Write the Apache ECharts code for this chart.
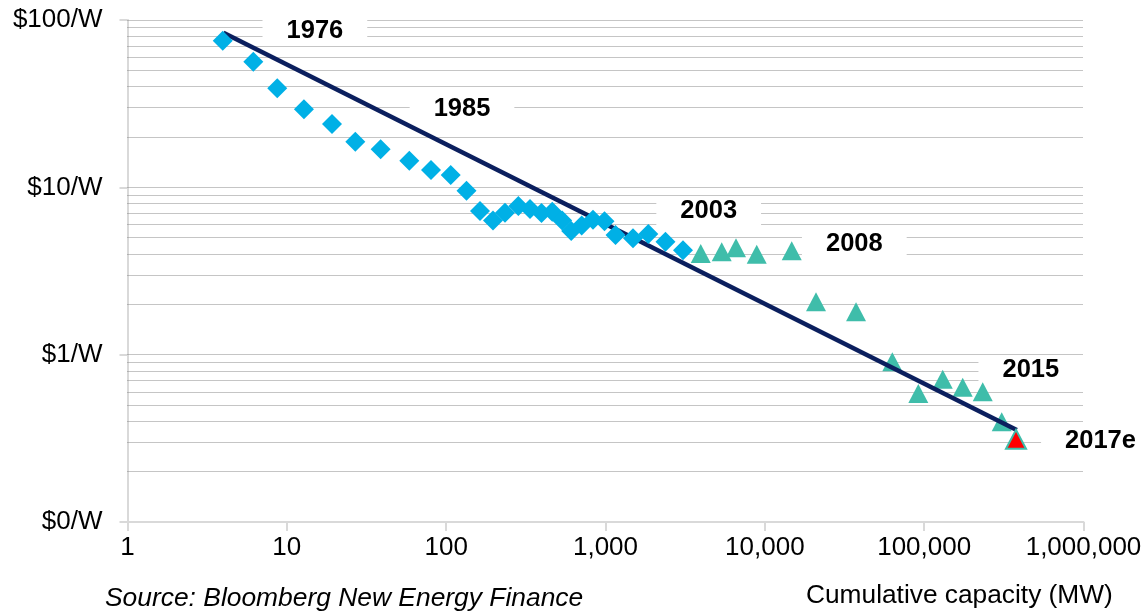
<!DOCTYPE html>
<html><head><meta charset="utf-8">
<script src="https://cdn.jsdelivr.net/npm/echarts@6/dist/echarts.min.js"></script>
<style>html,body{margin:0;padding:0;background:#fff}#chart{width:1145px;height:612px}</style>
</head><body><div id="chart"></div>
<script>
const diamondCapacity = [3.96,6.16,8.71,12.8,19.2,26.9,38.8,58.7,80.3,106.8,134.2,163.1,196.8,234,283.8,335.9,396.7,463.1,535,609,709,835,985.8,1156,1488,1856,2379,3065];
const diamondPrice = [75.2,56.3,39.1,29.3,23.9,18.7,16.9,14.4,12.7,11.85,9.55,7.22,6.34,7.05,7.73,7.42,7.02,7.15,6.34,5.48,5.91,6.41,6.27,5.19,4.96,5.26,4.73,4.21];
const triangleCapacity = [3960,5363,6593,8895,14750,20950,37360,63100,91900,130800,174500,233100,306700];
const trianglePrice = [4.03,4.12,4.36,3.98,4.18,2.07,1.806,0.908,0.587,0.712,0.638,0.601,0.397];
const estimateCapacity = [377100];
const estimatePrice = [0.312];
const trendCapacity = [4.0, 381000];
const trendPrice = [84.0, 0.355];
const annotationYears = ['1976','1985','2003','2008','2015','2017e'];
const annotationCapacity = [15.0,125.7,4443,36440,467000,1279000];
const annotationPrice = [86,29.4,7.22,4.58,0.81,0.305];
const xTickLabels = ['1','10','100','1,000','10,000','100,000','1,000,000'];
const yTickLabels = ['$0/W','$1/W','$10/W','$100/W'];
const gridPrices = [0.2,0.3,0.4,0.5,0.6,0.7,0.8,0.9,1,2,3,4,5,6,7,8,9,10,20,30,40,50,60,70,80,90,100];

const FONT = 'Liberation Sans';
const zip = (a, b) => a.map((v, i) => [v, b[i]]);
const chart = echarts.init(document.getElementById('chart'), null, {renderer: 'canvas'});
const axisGray = '#d9d9d9';
chart.setOption({
  animation: false,
  backgroundColor: '#fff',
  grid: {left: 127.5, right: 61.5, top: 20, bottom: 90},
  xAxis: {
    type: 'log', logBase: 10, min: 1, max: 1000000,
    axisLine: {show: true, lineStyle: {color: axisGray, width: 2}},
    axisTick: {show: true, length: 9, lineStyle: {color: axisGray, width: 2}},
    axisLabel: {fontSize: 26, color: '#000', fontFamily: FONT, margin: 13,
      formatter: v => xTickLabels[Math.round(Math.log10(v))]},
    splitLine: {show: false}
  },
  yAxis: {
    type: 'log', logBase: 10, min: 0.1, max: 100,
    axisLine: {show: true, lineStyle: {color: axisGray, width: 2}},
    axisTick: {show: true, length: 8, lineStyle: {color: axisGray, width: 2}},
    axisLabel: {fontSize: 26, color: '#000', fontFamily: FONT, margin: 25,
      formatter: v => yTickLabels[Math.round(Math.log10(v)) + 1]},
    splitLine: {show: false}
  },
  graphic: [
    {type: 'text', left: 105, top: 586, style: {text: 'Source: Bloomberg New Energy Finance', font: 'italic 26.4px "Liberation Sans"', fill: '#000'}},
    {type: 'text', left: 806, top: 583, style: {text: 'Cumulative capacity (MW)', font: '26.3px "Liberation Sans"', fill: '#000'}}
  ],
  series: [
    {type: 'scatter', data: [], z: 1,
      markLine: {silent: true, symbol: 'none', z: 1, animation: false, label: {show: false},
        lineStyle: {color: '#8a8a8a', type: [1, 1], width: 1},
        emphasis: {disabled: true},
        data: gridPrices.map(p => ({yAxis: p}))}},
    {type: 'scatter', z: 10, clip: false, silent: true,
      data: zip(annotationCapacity, annotationPrice),
      symbolSize: 1, itemStyle: {color: 'rgba(0,0,0,0)', opacity: 1},
      label: {show: true, position: 'inside', formatter: p => annotationYears[p.dataIndex],
        fontSize: 25.5, fontWeight: 'bold', fontFamily: FONT, color: '#000', opacity: 1,
        backgroundColor: '#fff', padding: [3, 24, 3, 24], lineHeight: 24}},
    {type: 'scatter', z: 11, name: 'after2003', symbol: 'triangle', symbolSize: [20, 19],
      itemStyle: {color: '#3FBDAA', opacity: 1}, data: zip(triangleCapacity, trianglePrice)},
    {type: 'line', z: 12, symbol: 'none', data: zip(trendCapacity, trendPrice),
      lineStyle: {color: '#0B1F5E', width: 4.5}},
    {type: 'scatter', z: 13, name: 'to2003', symbol: 'diamond', symbolSize: 20,
      itemStyle: {color: '#00B0E6', opacity: 1}, data: zip(diamondCapacity, diamondPrice)},
    {type: 'scatter', z: 14, name: 'estimate', symbol: 'triangle', symbolSize: [20, 19],
      itemStyle: {color: '#FF0000', borderColor: '#3FBDAA', borderWidth: 2, opacity: 1},
      data: zip(estimateCapacity, estimatePrice)}
  ]
});
</script></body></html>
